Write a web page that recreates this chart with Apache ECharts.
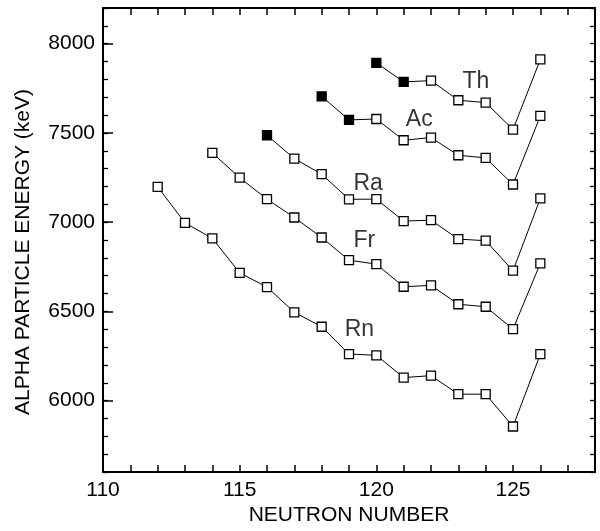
<!DOCTYPE html>
<html lang="en">
<head>
  <meta charset="UTF-8">
  <title>Alpha particle energy</title>
  <script src="https://cdn.jsdelivr.net/npm/echarts@6/dist/echarts.min.js"></script>
  <style>
    * {
      margin: 0;
      padding: 0
    }

    html, body {
      width: 100%;
      height: 100%;
      background: #fff;
    }

    #main {
      width: 600px;
      height: 531px;
    }
  </style>
</head>
<body>
  <div id="main"></div>
</body>
<script type="text/javascript">
  // neutron number / alpha energy (keV) per element
  var thN = [120, 121, 122, 123, 124, 125, 126];
  var thE = [7893, 7786, 7793, 7683, 7670, 7519, 7912];
  var acN = [118, 119, 120, 121, 122, 123, 124, 125, 126];
  var acE = [7705, 7573, 7578, 7459, 7474, 7375, 7360, 7211, 7595];
  var raN = [116, 117, 118, 119, 120, 121, 122, 123, 124, 125, 126];
  var raE = [7487, 7356, 7269, 7128, 7129, 7006, 7011, 6905, 6896, 6728, 7133];
  var frN = [114, 115, 116, 117, 118, 119, 120, 121, 122, 123, 124, 125, 126];
  var frE = [7388, 7249, 7129, 7026, 6914, 6787, 6765, 6638, 6646, 6540, 6526, 6401, 6769];
  var rnN = [112, 113, 114, 115, 116, 117, 118, 119, 120, 121, 122, 123, 124, 125, 126];
  var rnE = [7198, 6996, 6909, 6716, 6636, 6495, 6414, 6261, 6254, 6129, 6140, 6036, 6036, 5855, 6260];

  // how many leading points are drawn as filled squares
  var thFilled = 2;
  var acFilled = 2;
  var raFilled = 1;

  // element labels (placed in data coordinates)
  var labelNames = ['Th', 'Ac', 'Ra', 'Fr', 'Rn'];
  var labelX = [123.64, 121.57, 119.7, 119.56, 119.38];
  var labelY = [7785, 7576, 7218, 6899, 6396];

  // tick labels shown
  var xTicks = [110, 115, 120, 125];
  var yTicks = [6000, 6500, 7000, 7500, 8000];

  var font = 'Liberation Sans, Arial, Helvetica, sans-serif';

  function pts(ns, es, filled) {
    var out = [];
    for (var i = 0; i < ns.length; i++) {
      var p = {value: [ns[i], es[i]]};
      if (i < filled) p.itemStyle = {color: '#000'};
      out.push(p);
    }
    return out;
  }

  function chain(name, ns, es, filled) {
    return {
      name: name,
      type: 'line',
      symbol: 'rect',
      symbolSize: 9,
      itemStyle: {color: '#fff', borderColor: '#000', borderWidth: 1.3},
      lineStyle: {color: '#000', width: 1},
      data: pts(ns, es, filled)
    };
  }

  var labelData = [];
  for (var i = 0; i < labelNames.length; i++) {
    labelData.push([labelX[i], labelY[i], labelNames[i]]);
  }

  var chart = echarts.init(document.getElementById('main'));
  chart.setOption({
    animation: false,
    grid: {left: 103, top: 8, right: 5, bottom: 59},
    xAxis: [
      {
        type: 'value', min: 110, max: 128, interval: 1, position: 'bottom',
        axisLine: {show: true, lineStyle: {color: '#000', width: 2}},
        splitLine: {show: false},
        axisTick: {show: true, inside: true, length: 7, lineStyle: {color: '#000', width: 1.5}},
        axisLabel: {
          color: '#000', fontSize: 21, fontFamily: font,
          formatter: function (v) { return xTicks.indexOf(v) >= 0 ? String(v) : ''; }
        }
      },
      {
        type: 'value', min: 110, max: 128, interval: 1, position: 'top',
        axisLine: {show: true, lineStyle: {color: '#000', width: 2}},
        splitLine: {show: false},
        axisTick: {show: true, inside: true, length: 7, lineStyle: {color: '#000', width: 1.5}},
        axisLabel: {show: false}
      }
    ],
    yAxis: [
      {
        // every 100 keV, carries the labels
        type: 'value', min: 5600, max: 8200, interval: 100, position: 'left',
        axisLine: {show: true, lineStyle: {color: '#000', width: 2}},
        splitLine: {show: false},
        axisTick: {show: true, inside: true, length: 5, lineStyle: {color: '#000', width: 1.3}},
        axisLabel: {
          color: '#000', fontSize: 21, fontFamily: font,
          formatter: function (v) { return yTicks.indexOf(v) >= 0 ? String(v) : ''; }
        }
      },
      {
        type: 'value', min: 5600, max: 8200, interval: 100, position: 'right',
        axisLine: {show: true, lineStyle: {color: '#000', width: 2}},
        splitLine: {show: false},
        axisTick: {show: true, inside: true, length: 5, lineStyle: {color: '#000', width: 1.3}},
        axisLabel: {show: false}
      },
      {
        // long ticks every 500 keV
        type: 'value', min: 5600, max: 8200, position: 'left', offset: 0,
        axisLine: {show: false},
        splitLine: {show: false},
        axisTick: {show: true, inside: true, length: 10, lineStyle: {color: '#000', width: 1.5}},
        axisLabel: {show: false}
      }
    ],
    // axis titles
    graphic: [
      {
        type: 'text', x: 349, y: 515, silent: true,
        style: {text: 'NEUTRON NUMBER', fill: '#000', fontSize: 21, fontFamily: font, align: 'center', verticalAlign: 'middle'}
      },
      {
        type: 'text', x: 23, y: 252, rotation: Math.PI / 2, silent: true,
        style: {text: 'ALPHA PARTICLE ENERGY (keV)', fill: '#000', fontSize: 21, fontFamily: font, align: 'center', verticalAlign: 'middle'}
      }
    ],
    series: [
      chain('Th', thN, thE, thFilled),
      chain('Ac', acN, acE, acFilled),
      chain('Ra', raN, raE, raFilled),
      chain('Fr', frN, frE, 0),
      chain('Rn', rnN, rnE, 0),
      {
        type: 'scatter',
        symbolSize: 0,
        silent: true,
        label: {
          show: true,
          position: 'inside',
          color: '#000',
          fontSize: 23,
          fontFamily: font,
          formatter: function (p) { return p.value[2]; }
        },
        data: labelData
      }
    ]
  });
</script>
</html>
